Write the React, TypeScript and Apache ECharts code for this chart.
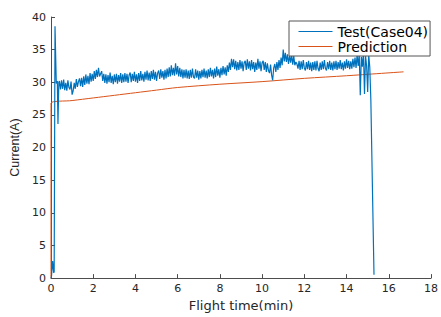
import React, { useEffect, useRef } from "react";
import * as echarts from "echarts";

const X_TICKS = { min: 0, max: 18, interval: 2 };
const Y_TICKS = { min: 0, max: 40, interval: 5 };

// Start-up transient of the test current: [time(min), current(A)]
const testStart: [number, number][] = [
  [0.0, 0.0], [0.02, 0.2], [0.08, 2.6], [0.13, 0.8], [0.15, 1.0], [0.19, 38.6],
  [0.25, 29.8], [0.3, 30.2], [0.33, 23.6], [0.37, 30.0],
];

// Sampled test current, 0.05 min apart, starting at 0.40 min (one row per minute)
const SAMPLE_START = 0.4;
const SAMPLE_STEP = 0.05;
const testSamples: number[] = [
  30.2, 28.9, 30.3, 29.0, 30.4, 28.8, 29.9, 28.7, 30.3, 29.2, 28.9, 30.1, 28.1, 28.7, 29.9, 29.0, 30.5, 29.3, 30.1, 30.6,
  29.4, 30.7, 29.3, 30.9, 29.6, 31.2, 29.8, 31.0, 29.7, 31.4, 30.1, 31.3, 30.2, 31.7, 30.5, 31.9, 30.8, 32.2, 30.9, 31.3,
  31.7, 30.2, 31.3, 29.9, 31.2, 29.8, 31.1, 30.0, 31.5, 29.9, 31.0, 29.7, 31.2, 30.0, 31.3, 29.8, 31.1, 30.1, 31.4, 29.9,
  31.2, 30.0, 31.4, 30.1, 31.3, 29.9, 31.1, 31.5, 30.0, 31.3, 30.2, 31.6, 30.1, 31.2, 29.9, 31.4, 30.2, 31.7, 30.3, 31.3,
  30.1, 31.6, 30.4, 31.8, 30.3, 31.5, 30.2, 31.7, 30.5, 31.9, 30.4, 31.6, 30.2, 31.4, 31.8, 30.5, 32.0, 30.7, 31.7, 30.4,
  31.9, 30.6, 32.1, 30.8, 32.3, 30.9, 32.6, 31.1, 32.2, 31.0, 32.9, 31.2, 32.5, 30.9, 32.2, 30.8, 32.0, 30.6, 31.9, 30.7,
  32.0, 30.6, 31.8, 30.5, 31.9, 30.7, 32.1, 30.8, 30.6, 32.0, 30.7, 31.8, 30.4, 31.7, 30.6, 31.9, 30.8, 32.1, 30.7, 31.8,
  30.6, 32.0, 30.8, 32.2, 30.9, 31.9, 30.6, 32.1, 30.8, 32.4, 31.0, 32.0, 30.7, 32.2, 31.1, 32.5, 31.2, 32.3, 31.0, 32.6,
  31.6, 33.0, 31.9, 33.6, 32.3, 33.5, 32.0, 33.3, 31.8, 33.1, 31.9, 33.4, 32.1, 33.2, 31.7, 33.0, 33.3, 31.9, 33.5, 32.1,
  33.2, 31.8, 33.4, 32.0, 33.1, 31.6, 33.0, 31.9, 33.6, 32.1, 33.2, 31.7, 33.0, 33.3, 31.9, 33.1, 31.6, 32.9, 31.8, 31.4,
  32.7, 31.1, 30.3, 32.2, 32.8, 31.6, 33.1, 31.9, 33.4, 32.2, 33.8, 32.6, 35.0, 33.2, 34.5, 33.1, 34.3, 32.8, 34.1, 33.0,
  34.2, 32.7, 34.0, 32.6, 33.1, 32.8, 32.1, 33.3, 31.9, 33.2, 32.0, 33.4, 32.2, 31.8, 33.1, 32.0, 33.3, 31.9, 33.0, 31.7,
  33.1, 31.9, 33.2, 31.8, 33.3, 32.1, 31.7, 33.0, 31.9, 33.2, 32.0, 33.4, 32.1, 31.8, 33.1, 32.0, 33.3, 31.9, 33.0, 31.8,
  33.2, 32.0, 33.3, 31.9, 33.1, 32.1, 33.4, 32.0, 33.0, 31.8, 33.2, 32.1, 33.5, 32.2, 33.3, 32.0, 33.2, 32.1, 33.6, 32.3,
  33.8, 32.2, 34.2, 32.5, 34.4, 28.0, 33.9, 32.4, 34.6, 28.2, 34.0, 32.5, 28.5, 34.2, 32.3, 27.4,
];

// Shut-down of the test current
const testEnd: [number, number][] = [[15.3, 0.5]];

// Predicted current: [time(min), current(A)]
const predTime: number[] = [0, 0, 1, 2, 3, 4, 5, 6, 8, 10, 12, 14, 16.7];
const predValue: number[] = [0, 26.8, 27.2, 27.6, 28.0, 28.4, 28.8, 29.2, 29.7, 30.1, 30.6, 31.0, 31.6];

const TEXT = "#262626";
const AXIS = "#4d4d4d";
const FONT = "'DejaVu Sans', 'Liberation Sans', Arial, sans-serif";

export default function App() {
  const ref = useRef<HTMLDivElement>(null);
  useEffect(() => {
    if (!ref.current) return;
    const chart = echarts.init(ref.current, null, { renderer: "svg" });
    const testData: [number, number][] = [
      ...testStart,
      ...testSamples.map((v, i) => [+(SAMPLE_START + i * SAMPLE_STEP).toFixed(2), v] as [number, number]),
      ...testEnd,
    ];
    const predData = predTime.map((t, i) => [t, predValue[i]]);
    chart.setOption({
      animation: false,
      backgroundColor: "#ffffff",
      textStyle: { fontFamily: FONT },
      grid: { left: 51, right: 7, top: 17, bottom: 32 },
      legend: {
        orient: "vertical",
        left: 289,
        top: 21,
        padding: [3, 2, 2, 9],
        itemWidth: 34,
        itemHeight: 12,
        itemGap: 0,
        borderColor: "#555555",
        borderWidth: 1,
        backgroundColor: "#ffffff",
        itemStyle: { opacity: 0 },
        lineStyle: { width: 1 },
        textStyle: { color: "#000000", fontSize: 14, lineHeight: 15, fontFamily: FONT },
        data: ["Test(Case04)", "Prediction"],
      },
      xAxis: {
        type: "value",
        min: X_TICKS.min,
        max: X_TICKS.max,
        interval: X_TICKS.interval,
        name: "Flight time(min)",
        nameLocation: "middle",
        nameGap: 18,
        nameTextStyle: { color: TEXT, fontSize: 13, fontFamily: FONT },
        axisLine: { lineStyle: { color: AXIS, width: 1 } },
        axisTick: { inside: true, length: 4, lineStyle: { color: AXIS } },
        axisLabel: { color: TEXT, fontSize: 11, margin: 5, fontFamily: FONT },
        splitLine: { show: false },
      },
      yAxis: {
        type: "value",
        min: Y_TICKS.min,
        max: Y_TICKS.max,
        interval: Y_TICKS.interval,
        name: "Current(A)",
        nameLocation: "middle",
        nameGap: 24,
        nameTextStyle: { color: TEXT, fontSize: 12.5, fontFamily: "'Liberation Sans', Arial, sans-serif" },
        axisLine: { show: true, lineStyle: { color: AXIS, width: 1 } },
        axisTick: { show: true, inside: true, length: 4, lineStyle: { color: AXIS } },
        axisLabel: { color: TEXT, fontSize: 11, margin: 5, fontFamily: FONT },
        splitLine: { show: false },
      },
      series: [
        {
          name: "Test(Case04)",
          type: "line",
          data: testData,
          showSymbol: false,
          symbol: "none",
          lineStyle: { color: "#0072BD", width: 1.2 },
          itemStyle: { color: "#0072BD" },
          z: 3,
        },
        {
          name: "Prediction",
          type: "line",
          data: predData,
          smooth: 0.3,
          showSymbol: false,
          symbol: "none",
          lineStyle: { color: "#D95319", width: 1 },
          itemStyle: { color: "#D95319" },
          z: 2,
        },
      ],
    });
    return () => chart.dispose();
  }, []);
  return (
    <div
      ref={ref}
      style={{ position: "fixed", left: 0, top: 0, width: 441, height: 317 }}
    />
  );
}
